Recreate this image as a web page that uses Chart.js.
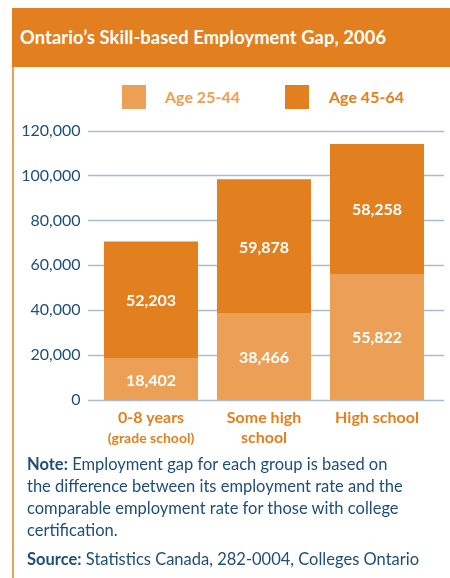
<!DOCTYPE html>
<html>
<head>
<meta charset="utf-8">
<script src="https://cdn.jsdelivr.net/npm/chart.js@4"></script>
<style>
  html, body { margin: 0; padding: 0; background: #fff; }
  body { width: 450px; height: 578px; position: relative; overflow: hidden; font-family: Lato, 'Open Sans', sans-serif; }
  .banner { position: absolute; left: 12px; top: 8px; width: 438px; height: 59px; background: #E27F1E; }
  .banner h1 { margin: 0; position: absolute; left: 8px; top: 18px; color: #fff; font-size: 18.3px; font-weight: 700; letter-spacing: 0.1px; }
  .side-line { position: absolute; left: 12px; top: 67px; width: 2px; height: 511px; background: #EBA055; }
  .legend { position: absolute; top: 85px; left: 0; width: 450px; height: 24px; }
  .legend .box { position: absolute; top: 0; width: 24px; height: 24px; }
  .legend .txt { position: absolute; top: 2px; font-size: 16px; font-weight: 700; }
  #chart-wrap { position: absolute; left: 0; top: 107px; width: 450px; height: 353px; }
  .note { position: absolute; left: 27px; top: 453px; width: 420px; color: #1F4E79; font-size: 16.5px; line-height: 22px; white-space: nowrap; }
  .note b { font-weight: 700; }
  .source { position: absolute; left: 27px; top: 549px; color: #1F4E79; font-size: 16.5px; white-space: nowrap; }
</style>
</head>
<body>
<div class="banner"><h1>Ontario’s Skill-based Employment Gap, 2006</h1></div>
<div class="side-line"></div>
<div class="legend">
  <div class="box" style="left:122px;background:#EBA055"></div>
  <div class="txt" style="left:165px;color:#EBA055">Age 25-44</div>
  <div class="box" style="left:285px;background:#E27F1E"></div>
  <div class="txt" style="left:329px;color:#E27F1E">Age 45-64</div>
</div>
<div id="chart-wrap"><canvas id="chart" width="450" height="353"></canvas></div>
<div class="note"><b>Note:</b> Employment gap for each group is based on<br>the difference between its employment rate and the<br>comparable employment rate for those with college<br>certification.</div>
<div class="source"><b>Source:</b> Statistics Canada, 282-0004, Colleges Ontario</div>

<script>
const categories = ['0-8 years', 'Some high school', 'High school'];
const catLine1 = ['0-8 years', 'Some high', 'High school'];
const catLine2 = ['(grade school)', 'school', ''];
const age25to44 = [18402, 38466, 55822];
const age45to64 = [52203, 59878, 58258];
const yTicks = [0, 20000, 40000, 60000, 80000, 100000, 120000];

const lightOrange = '#EBA055';
const darkOrange = '#E27F1E';
const axisBlue = '#1F4E79';
const gridBlue = '#A9BDD2';

// horizontal grid lines run a bit wider than the plot area
const gridPlugin = {
  id: 'gridLines',
  beforeDatasetsDraw(chart) {
    const ctx = chart.ctx;
    const y = chart.scales.y;
    ctx.save();
    ctx.strokeStyle = gridBlue;
    ctx.lineWidth = 1.5;
    yTicks.forEach((v) => {
      const py = Math.round(y.getPixelForValue(v)) + 0.5;
      ctx.beginPath();
      ctx.moveTo(88, py);
      ctx.lineTo(444, py);
      ctx.stroke();
    });
    ctx.restore();
  },
};

// value labels in the middle of each segment, and the category labels underneath
const labelPlugin = {
  id: 'labels',
  afterDatasetsDraw(chart) {
    const ctx = chart.ctx;
    ctx.save();
    ctx.textAlign = 'center';
    ctx.textBaseline = 'middle';
    ctx.fillStyle = '#fff';
    ctx.font = 'bold 16px Lato, "Open Sans", sans-serif';
    chart.data.datasets.forEach((ds, i) => {
      chart.getDatasetMeta(i).data.forEach((bar, j) => {
        const mid = (bar.y + bar.base) / 2;
        ctx.fillText(ds.data[j].toLocaleString('en-US'), bar.x, mid + 1);
      });
    });

    const x = chart.scales.x;
    const bottom = chart.chartArea.bottom;
    ctx.fillStyle = darkOrange;
    categories.forEach((c, i) => {
      const px = x.getPixelForValue(i);
      ctx.font = 'bold 16px Lato, "Open Sans", sans-serif';
      ctx.fillText(catLine1[i], px, bottom + 18);
      if (catLine2[i]) {
        ctx.font = i === 0 ? 'bold 14px Lato, "Open Sans", sans-serif' : 'bold 16px Lato, "Open Sans", sans-serif';
        ctx.fillText(catLine2[i], px, bottom + 38);
      }
    });
    ctx.restore();
  },
};

new Chart(document.getElementById('chart').getContext('2d'), {
  type: 'bar',
  data: {
    labels: categories,
    datasets: [
      { label: 'Age 25-44', data: age25to44, backgroundColor: lightOrange },
      { label: 'Age 45-64', data: age45to64, backgroundColor: darkOrange },
    ],
  },
  options: {
    responsive: false,
    animation: false,
    layout: { padding: { top: 17, right: 16.5, bottom: 60, left: 0 } },
    datasets: { bar: { categoryPercentage: 1, barPercentage: 0.832 } },
    plugins: { legend: { display: false }, tooltip: { enabled: false } },
    scales: {
      x: { stacked: true, display: false },
      y: {
        stacked: true,
        min: 0,
        max: 120000,
        afterFit(scale) { scale.width = 94.5; },
        afterBuildTicks(scale) { scale.ticks = yTicks.map((v) => ({ value: v })); },
        grid: { display: false, drawTicks: false },
        border: { display: false },
        ticks: {
          padding: 14,
          color: axisBlue,
          font: { family: 'Lato, "Open Sans", sans-serif', size: 16 },
          callback: (v) => v.toLocaleString('en-US'),
        },
      },
    },
  },
  plugins: [gridPlugin, labelPlugin],
});
</script>
</body>
</html>
